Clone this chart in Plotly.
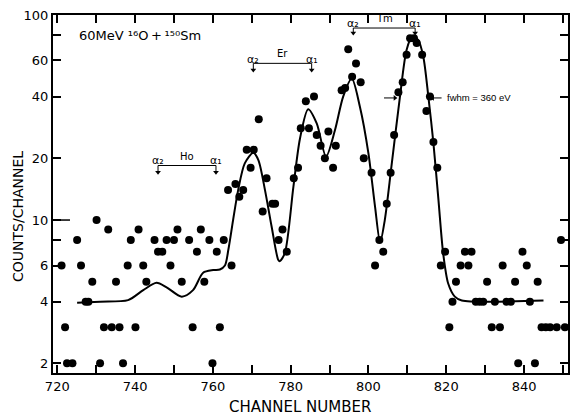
import math
import plotly.graph_objects as go

# measured data points (channel, counts/channel)
channels = [721.1, 722.0, 722.5, 723.9, 725.1, 726.1, 727.3, 728.0, 729.0, 730.1,
            731.0, 732.0, 733.1, 734.0, 735.1, 736.0, 736.9, 738.1, 738.9, 740.1,
            740.9, 742.1, 742.9, 745.0, 745.9, 747.0, 748.1, 749.1, 750.0, 750.9,
            752.0, 753.9, 754.8, 755.9, 756.9, 757.8, 759.1, 759.9, 761.0, 761.8,
            762.8, 763.9, 764.8, 765.8, 766.8, 767.8, 768.7, 769.7, 770.5, 771.8,
            772.8, 773.8, 775.3, 776.0, 776.9, 777.9, 779.0, 780.8, 781.9, 782.6,
            783.9, 784.7, 786.0, 786.7, 787.7, 788.8, 789.7, 790.9, 791.6, 793.1,
            794.0, 794.8, 795.8, 796.8, 798.0, 798.8, 800.8, 801.7, 802.8, 803.8,
            804.7, 805.7, 806.6, 807.7, 808.8, 809.8, 810.7, 811.7, 812.4, 813.8,
            814.9, 815.8, 816.7, 817.7, 818.6, 819.7, 820.8, 821.6, 822.5, 823.7,
            824.8, 825.7, 826.5, 827.6, 828.6, 829.5, 830.5, 831.7, 832.5, 833.8,
            834.5, 835.5, 836.6, 837.7, 838.5, 839.6, 840.7, 841.5, 842.8, 843.5,
            844.5, 845.6, 846.7, 848.4, 849.5, 850.5]
counts = [6, 3, 2, 2, 8, 6, 4, 4, 5, 10,
          2, 3, 9, 3, 5, 3, 2, 6, 8, 3,
          9, 6, 5, 8, 7, 7, 8, 6, 8, 9,
          5, 8, 3, 7, 9, 5, 8, 2, 7, 3,
          8, 14, 6, 15, 13, 14, 22, 18, 22, 31,
          11, 16, 12, 12, 8, 9, 7, 16, 18, 28,
          38, 28, 40, 26, 23, 20, 27, 18, 23, 43,
          44, 68, 50, 58, 47, 20, 17, 6, 8, 7,
          12, 17, 26, 42, 47, 64, 77, 77, 73, 64,
          34, 40, 24, 18, 6, 7, 3, 4, 5, 6,
          7, 6, 7, 4, 4, 4, 5, 3, 4, 3,
          6, 4, 4, 5, 2, 7, 6, 4, 2, 5,
          3, 3, 3, 3, 8, 3]

# fitted curve
fit_channels = [725.1, 731.0, 738.2, 742.1, 745.5, 748.1, 752.0, 754.9, 757.5, 760.1,
                761.8, 763.1, 764.0, 765.2, 766.5, 768.2, 770.4, 771.7, 773.4, 775.1,
                776.8, 777.2, 778.5, 780.7, 782.4, 784.5, 786.7, 789.1, 791.4, 793.5,
                795.7, 797.8, 800.0, 801.7, 803.0, 804.2, 805.9, 808.1, 809.8, 811.3,
                812.8, 814.1, 815.4, 816.7, 818.0, 819.2, 820.5, 822.2, 824.0, 845.0]
fit_counts = [3.95, 4.0, 4.07, 4.55, 4.94, 4.7, 4.23, 4.55, 5.53, 5.7,
              5.74, 6.0, 7.2, 10, 14, 18.9, 21.3, 19.6, 14, 9.3,
              6.4, 6.3, 6.9, 14.5, 25, 34.7, 29.6, 20.4, 27.5, 40,
              49, 35.7, 21.1, 11.6, 7.8, 10, 18.2, 40, 67.5, 79,
              75.5, 62.6, 40, 23.7, 12.5, 6.9, 4.9, 4.23, 4.05, 4.05]

x_tickvals = [720, 740, 760, 780, 800, 820, 840]
x_minor_tickvals = [730, 750, 770, 790, 810, 830, 850]
y_tickvals = [2, 4, 6, 10, 20, 40, 60, 100]
y_minor_tickvals = [8, 80]

# element brackets: (label, alpha2 channel, alpha1 channel)
brackets = [("Ho", 745.9, 760.8), ("Er", 770.4, 785.4), ("Tm", 796.1, 812.0)]
bracket_levels = [18.45, 58.1, 86.4]
bracket_tips = [17.1, 53.9, 81.7]
alpha_label_levels = [19.6, 60.8, 91.4]
element_label_levels = [20.3, 65.0, 96.4]

# fwhm markers: (tail channel, tip channel) at one level
fwhm_level = 39.4
fwhm_arrows = [(804.0, 806.8), (818.8, 816.5)]

FONT = "DejaVu Sans"
L = math.log10  # annotations on a log axis take log10 positions

fig = go.Figure()
fig.add_trace(go.Scatter(x=fit_channels, y=fit_counts, mode="lines",
                         line=dict(color="black", width=2, shape="spline", smoothing=0.8),
                         hoverinfo="skip", showlegend=False))
fig.add_trace(go.Scatter(x=channels, y=counts, mode="markers",
                         marker=dict(color="black", size=8), showlegend=False))

annotations = []
shapes = []
tip_x, tip_y = [], []
for (name, a2, a1), lev, tip, alev, elev in zip(brackets, bracket_levels, bracket_tips,
                                                alpha_label_levels, element_label_levels):
    shapes.append(dict(type="line", xref="x", yref="y", x0=a2, x1=a1, y0=lev, y1=lev,
                       line=dict(color="black", width=1)))
    for xc in (a2, a1):
        shapes.append(dict(type="line", xref="x", yref="y", x0=xc, x1=xc, y0=lev, y1=tip,
                           line=dict(color="black", width=1)))
        tip_x.append(xc)
        tip_y.append(tip)
    annotations.append(dict(x=a2, y=L(alev), xref="x", yref="y", showarrow=False,
                            text="α₂", font=dict(family=FONT, size=11, color="black")))
    annotations.append(dict(x=a1, y=L(alev), xref="x", yref="y", showarrow=False,
                            text="α₁", font=dict(family=FONT, size=11, color="black")))
    annotations.append(dict(x=(a2 + a1) / 2, y=L(elev), xref="x", yref="y", showarrow=False,
                            text=name, font=dict(family=FONT, size=10, color="black")))

fig.add_trace(go.Scatter(x=tip_x, y=tip_y, mode="markers", hoverinfo="skip",
                         marker=dict(symbol="triangle-down", size=5, color="black"),
                         showlegend=False))

# fwhm arrows
for tail, tipc in fwhm_arrows:
    shapes.append(dict(type="line", xref="x", yref="y", x0=tail, x1=tipc,
                       y0=fwhm_level, y1=fwhm_level, line=dict(color="black", width=1)))
fig.add_trace(go.Scatter(x=[a[1] for a in fwhm_arrows], y=[fwhm_level] * 2, mode="markers",
                         hoverinfo="skip",
                         marker=dict(symbol=["triangle-right", "triangle-left"], size=5,
                                     color="black"),
                         showlegend=False))
annotations.append(dict(x=828.3, y=L(fwhm_level), xref="x", yref="y", showarrow=False,
                        text="fwhm = 360 eV",
                        font=dict(family="Liberation Sans", size=9.5, color="black")))

# reaction label
annotations.append(dict(x=725.0, y=L(79), xref="x", yref="y", xanchor="left",
                        yanchor="middle", showarrow=False,
                        text="60MeV ¹⁶O\u2009+\u2009¹⁵⁰Sm",
                        font=dict(family=FONT, size=13, color="black")))

# axis titles
annotations.append(dict(x=0.48, y=-0.095, xref="paper", yref="paper", showarrow=False,
                        xanchor="center", yanchor="middle",
                        text="CHANNEL NUMBER", font=dict(family=FONT, size=15, color="black")))
annotations.append(dict(x=-0.068, y=0.4385, xref="paper", yref="paper", showarrow=False,
                        xanchor="center", yanchor="middle",
                        textangle=-90, text="COUNTS/CHANNEL",
                        font=dict(family=FONT, size=14, color="black")))

# longer major tick at 10
shapes.append(dict(type="line", xref="paper", yref="y", x0=0, x1=0.033, y0=10, y1=10,
                   line=dict(color="black", width=1.5)))

fig.update_layout(
    width=572, height=417,
    margin=dict(l=53, r=4, t=15, b=44, autoexpand=False),
    paper_bgcolor="white", plot_bgcolor="white",
    font=dict(family=FONT, size=13, color="black"),
    annotations=annotations, shapes=shapes,
)
minor_style = dict(ticks="inside", ticklen=8, tickwidth=1.5, tickcolor="black", showgrid=False)
fig.update_xaxes(range=[718.9, 851.3], tickmode="array", tickvals=x_tickvals,
                 minor=dict(tickvals=x_minor_tickvals, **minor_style),
                 ticks="inside", ticklen=8, tickwidth=1.5, tickcolor="black",
                 showline=True, linecolor="black", linewidth=2, mirror="ticks",
                 showgrid=False, zeroline=False, tickfont=dict(size=13), automargin=False)
fig.update_yaxes(type="log", range=[0.254, 2.0], tickmode="array", tickvals=y_tickvals,
                 minor=dict(tickvals=y_minor_tickvals, **minor_style),
                 ticks="inside", ticklen=8, tickwidth=1.5, tickcolor="black",
                 showline=True, linecolor="black", linewidth=2, mirror="ticks",
                 showgrid=False, zeroline=False, tickfont=dict(size=13), automargin=False)

fig.write_html("out.html", config={"displayModeBar": False},
               post_script="document.body.style.margin='0';")
